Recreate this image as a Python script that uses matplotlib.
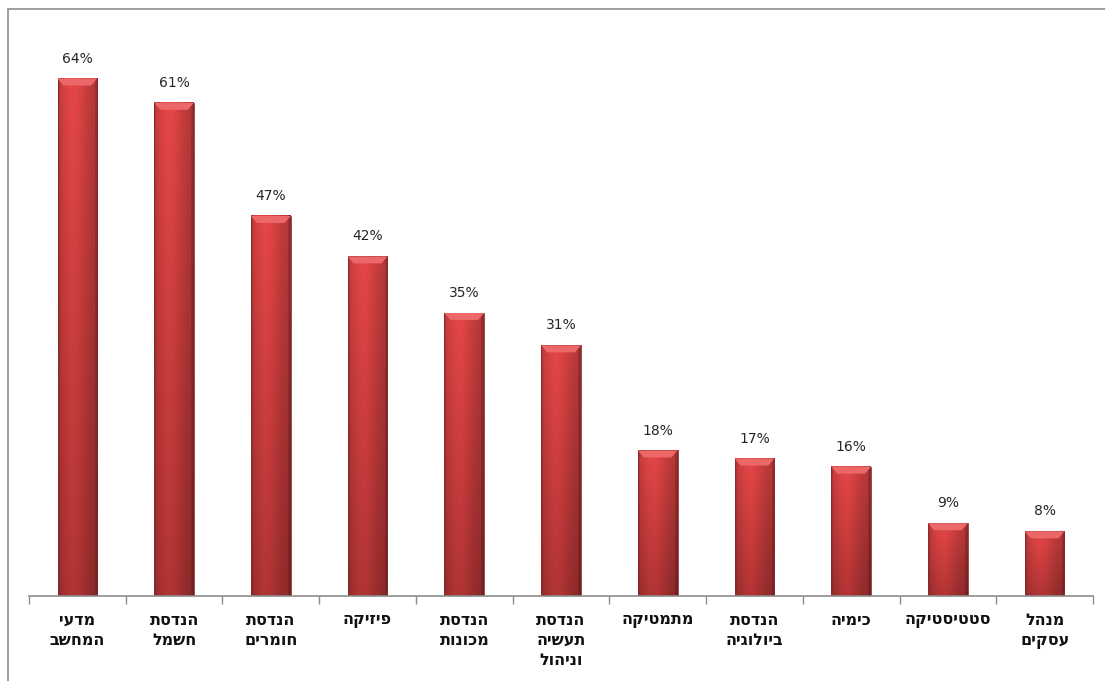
import matplotlib
matplotlib.use("Agg")
import matplotlib.pyplot as plt
import numpy as np
from matplotlib.patches import Rectangle, Polygon

# share of graduates per field (percent)
fields = ["מדעי\nהמחשב", "הנדסת\nחשמל", "הנדסת\nחומרים", "פיזיקה",
          "הנדסת\nמכונות", "הנדסת\nתעשיה\nוניהול", "מתמטיקה",
          "הנדסת\nביולוגיה", "כימיה", "סטטיסטיקה", "מנהל\nעסקים"]
values = [64, 61, 47, 42, 35, 31, 18, 17, 16, 9, 8]


def rtl(s):
    # matplotlib lays text out left to right, so flip each Hebrew line
    return "\n".join(line[::-1] for line in s.split("\n"))


fig = plt.figure(figsize=(11.05, 6.81), dpi=100)
ax = fig.add_axes([29 / 1105, 1 - 596 / 681, 1064 / 1105, 566 / 681])

# outer frame of the chart area
fig.patches.append(Rectangle((8 / 1105, -0.1), 1.2, 1 - 9 / 681 + 0.1,
                             transform=fig.transFigure, fill=False,
                             edgecolor="#8c8c8c", linewidth=1.2))

n = len(values)
x = np.arange(n)
width = 0.41

# shaded fill for the cylinder-like bars
h = np.linspace(0, 1, 60)
hprof = 0.80 + 0.22 * np.exp(-((h - 0.38) / 0.35) ** 2)
hprof[:3] *= 0.88
hprof[-4:] *= 0.80
v = np.linspace(0, 1, 200)[:, None]
top = np.array([0.88, 0.27, 0.27])
bot = np.array([0.68, 0.20, 0.20])
base = top * (1 - v[..., None]) + bot * v[..., None]
img = np.clip(base * hprof[None, :, None], 0, 1)

ax.set_xlim(-0.5, n - 0.5)
ax.set_ylim(0, 70)

px_x = 1 / 96.7
px_y = 70 / 566
for xi, val in zip(x, values):
    x0, x1 = xi - width / 2, xi + width / 2
    ax.imshow(img, extent=(x0, x1, 0, val), aspect="auto",
              interpolation="bilinear", zorder=2)
    ax.add_patch(Rectangle((x0, 0), width, val, fill=False,
                           edgecolor="#8a2a2a", linewidth=0.6, zorder=3))
    # bevel along the top edge
    bevel = 7 * px_y
    ax.add_patch(Polygon([(x0, val), (x1, val),
                          (x1 - 6 * px_x, val - bevel),
                          (x0 + 6 * px_x, val - bevel)],
                         closed=True, facecolor="#ec6868",
                         edgecolor="none", zorder=3))
    ax.text(xi, val + 1.6, f"{val}%", ha="center", va="bottom",
            fontsize=10, color="#262626", family="DejaVu Sans")

ax.set_xticks(x)
ax.set_xticklabels([rtl(f) for f in fields], fontsize=11.5,
                   fontweight="bold", color="#111111",
                   family=["DejaVu Sans"], linespacing=1.42, va="top")
ax.tick_params(axis="x", which="major", length=0, pad=12)
ax.set_xticks(np.arange(-0.5, n, 1), minor=True)
ax.tick_params(axis="x", which="minor", length=6, color="#8c8c8c", width=1)
ax.set_yticks([])

for side in ["left", "right", "top"]:
    ax.spines[side].set_visible(False)
ax.spines["bottom"].set_color("#8c8c8c")
ax.spines["bottom"].set_linewidth(1.2)
ax.spines["bottom"].set_zorder(4)

fig.savefig("out.png", dpi=100)
